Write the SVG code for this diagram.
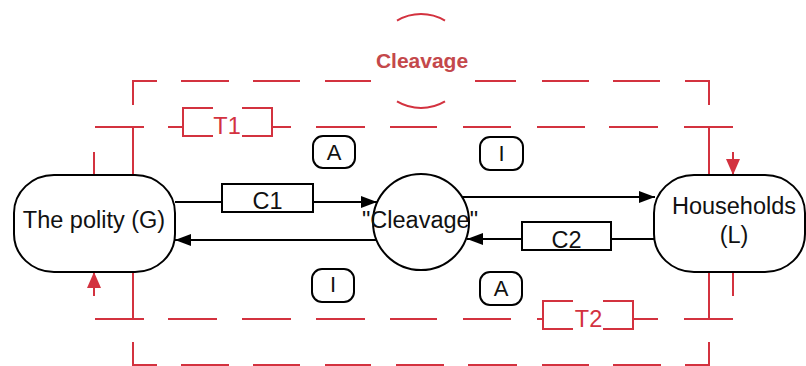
<svg xmlns="http://www.w3.org/2000/svg" width="806" height="366" viewBox="0 0 806 366">
<defs>
<style>
.red{stroke:#d3323f;stroke-width:2;fill:none}
.blk{stroke:#000;stroke-width:2;fill:none}
.node{stroke:#000;stroke-width:2;fill:#fff}
.txt{font-family:"Liberation Sans",Arial,sans-serif;font-size:23.5px;fill:#111;text-anchor:middle}
.lbl{font-family:"Liberation Sans",Arial,sans-serif;font-size:22px;fill:#111;text-anchor:middle}
.rtxt{font-family:"Liberation Sans",Arial,sans-serif;font-size:23.5px;fill:#d3323f;text-anchor:middle}
.ttl{font-family:"Liberation Sans",Arial,sans-serif;font-size:21px;font-weight:bold;fill:#c4484b;text-anchor:middle}
</style>
<marker id="ab" viewBox="0 0 16 12" refX="16" refY="6" markerWidth="16" markerHeight="12" markerUnits="userSpaceOnUse" orient="auto">
<path d="M0,0 L16,6 L0,12 Z" fill="#000"/>
</marker>
<marker id="ar" viewBox="0 0 16 14" refX="16" refY="7" markerWidth="16" markerHeight="14" markerUnits="userSpaceOnUse" orient="auto">
<path d="M0,0 L16,7 L0,14 Z" fill="#d3323f"/>
</marker>
</defs>
<rect width="806" height="366" fill="#fff"/>

<g id="boundary">
<path class="red" d="M397,20.6 A47,47 0 0 1 445,20.6"/>
<path class="red" d="M397,101.4 A47,47 0 0 0 445,101.4"/>
<text class="ttl" x="422" y="68">Cleavage</text>
<path class="red" d="M133,105 V81 H157 M181,81 H229 M253,81 H300 M325,81 H371 M475,81 H516 M542,81 H589 M613,81 H660 M685,81 H709 V105"/>
<path class="red" d="M133,342 V365 H157 M181,365 H229 M253,365 H300 M325,365 H371 M396,365 H444 M468,365 H517 M542,365 H589 M613,365 H661 M685,365 H709 V342"/>
<path class="red" d="M95,127 H144 M168,127 H183 M272,127 H291 M316,127 H365 M390,127 H437 M463,127 H511 M537,127 H585 M609,127 H658 M684,127 H733"/>
<path class="red" d="M133,127 V175 M94,152 V175 M709,127 V175"/>
<path class="red" d="M95,319 H144 M168,319 H217 M242,319 H291 M316,319 H365 M390,319 H437 M463,319 H511 M537,319 H543 M634,319 H658 M684,319 H733"/>
<path class="red" d="M133,272 V319 M709,272 V319 M733,272 V296"/>
<line class="red" x1="733" y1="152" x2="733" y2="175" marker-end="url(#ar)"/>
<line class="red" x1="94" y1="296" x2="94" y2="272" marker-end="url(#ar)"/>
</g>

<g id="T1">
<path class="red" d="M213,108 H183 V136 H213 M242,108 H272 V136 H242"/>
<text class="rtxt" x="227" y="134">T1</text>
</g>
<g id="T2">
<path class="red" d="M573,301 H543 V329 H573 M603,301 H633 V329 H603"/>
<text class="rtxt" x="588.5" y="327">T2</text>
</g>

<g id="connectors">
<path class="blk" d="M175,202 H222 M313,202 H377" marker-end="url(#ab)"/>
<line class="blk" x1="376" y1="240" x2="175" y2="240" marker-end="url(#ab)"/>
<line class="blk" x1="462" y1="197" x2="655" y2="197" marker-end="url(#ab)"/>
<path class="blk" d="M654,239 H611 M522,239 H467" marker-end="url(#ab)"/>
</g>

<g id="C1">
<rect class="node" x="222" y="184" width="91" height="28"/>
<text class="txt" x="267.5" y="209">C1</text>
</g>
<g id="C2">
<rect class="node" x="522" y="222" width="89" height="28"/>
<text class="txt" x="566.5" y="248">C2</text>
</g>

<g id="polity">
<rect class="node" x="14" y="175" width="161" height="97" rx="40" ry="38"/>
<text class="txt" x="94" y="228">The polity (G)</text>
</g>
<g id="cleavage">
<circle class="node" cx="421" cy="222" r="48"/>
<text class="txt" x="420" y="228">"Cleavage"</text>
</g>
<g id="households">
<rect class="node" x="654" y="175" width="151" height="97" rx="40" ry="38"/>
<text class="txt" x="734" y="214">Households</text>
<text class="txt" x="734" y="243">(L)</text>
</g>

<g id="labelA1">
<rect class="node" x="313" y="136" width="42" height="32" rx="10"/>
<text class="lbl" x="334" y="160">A</text>
</g>
<g id="labelI1">
<rect class="node" x="480" y="137" width="43" height="33" rx="10"/>
<text class="lbl" x="501.5" y="161">I</text>
</g>
<g id="labelI2">
<rect class="node" x="312" y="269" width="42" height="33" rx="10"/>
<text class="lbl" x="333" y="292">I</text>
</g>
<g id="labelA2">
<rect class="node" x="480" y="272" width="42" height="33" rx="10"/>
<text class="lbl" x="501" y="296">A</text>
</g>
</svg>
